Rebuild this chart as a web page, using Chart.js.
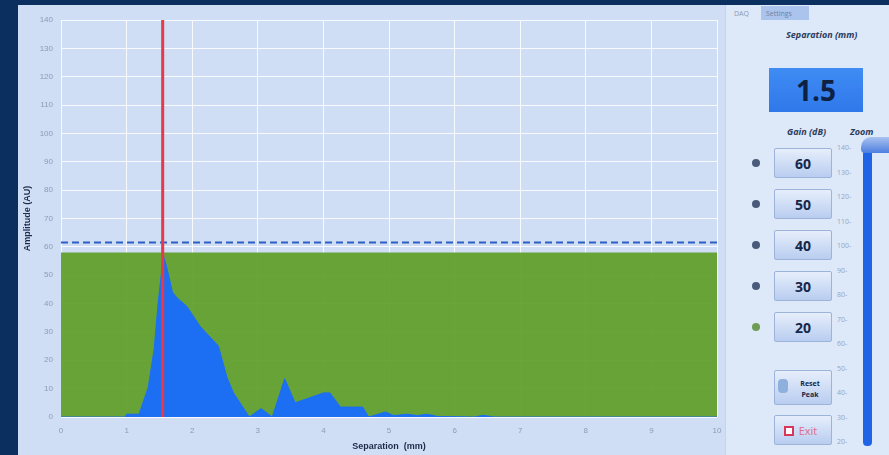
<!DOCTYPE html>
<html>
<head>
<meta charset="utf-8">
<script src="https://cdn.jsdelivr.net/npm/chart.js@4.4.1/dist/chart.umd.min.js"></script>
<style>
  body{margin:0;width:889px;height:455px;overflow:hidden;background:#0b2f5e;font-family:"Open Sans",sans-serif;position:relative;}
  #left{position:absolute;left:18px;top:5px;width:707px;height:450px;background:#cfdef5;}
  #right{position:absolute;left:725px;top:5px;width:164px;height:450px;background:#dde8f8;border-left:1px solid #c4d4ec;}
  #chart{position:absolute;left:18px;top:5px;}
  .abs{position:absolute;}
  .tab{font-size:7px;color:#8b9ab4;top:3px;}
  .lbl{font-size:9px;font-style:italic;font-weight:bold;color:#2b3c5e;}
  .btn{position:absolute;left:48px;width:58px;height:30px;border:1px solid #9db3da;border-radius:2px;
       background:linear-gradient(#e6eefb,#b9cdf0);color:#16284a;font-weight:bold;font-size:14px;
       text-align:center;line-height:30px;box-sizing:border-box;}
  .dot{position:absolute;left:26px;width:8px;height:8px;border-radius:50%;background:#4a5a7a;}
  .zt{position:absolute;left:111px;font-size:7px;color:#97a6c0;}
</style>
</head>
<body>
<div id="left"></div>
<div id="right"></div>
<canvas id="chart" width="707" height="450"></canvas>
<script>
// ================= DATA =================
const separationMm = [0, 0.98, 1.0, 1.19, 1.33, 1.42, 1.48, 1.56, 1.61, 1.70, 1.77, 1.92, 2.12, 2.40, 2.53, 2.63,
  2.87, 3.05, 3.22, 3.41, 3.57, 4.0, 4.1, 4.26, 4.6, 4.69, 4.95, 5.07, 5.28, 5.43, 5.58, 5.74, 6.3, 6.44, 6.6, 10];
const amplitudeAU = [0, 0, 1, 1, 10.5, 24, 40, 57, 53, 44, 42, 39, 32, 25, 14, 8.5,
  0, 3, 0, 13.5, 5, 8.5, 8.5, 3.5, 3.5, 0, 1.8, 0.5, 1, 0.5, 1, 0.2, 0, 0.6, 0, 0];
const gateLevel = 58;
const thresholdLevel = 61.5;
const cursorMm = 1.55;
const xRange = [0, 10];
const yRange = [0, 140];
const gainSteps = ["60", "50", "40", "30", "20"];
const zoomTicks = [140, 130, 120, 110, 100, 90, 80, 70, 60, 50, 40, 30, 20];

// ================= CHART =================
const ctx = document.getElementById("chart");

new Chart(ctx, {
  type: 'line',
  data: {
    datasets: [
      {
        label: "Cursor",
        data: [{x: cursorMm, y: yRange[0]}, {x: cursorMm, y: yRange[1]}],
        borderColor: "#e8384a",
        borderWidth: 3,
        pointRadius: 0,
        order: 0
      },
      {
        label: "Threshold",
        data: [{x: xRange[0], y: thresholdLevel}, {x: xRange[1], y: thresholdLevel}],
        borderColor: "#2c5fc4",
        borderWidth: 2,
        borderDash: [7, 4],
        pointRadius: 0,
        order: 1
      },
      {
        label: "Signal",
        data: separationMm.map((x, i) => ({x: x, y: amplitudeAU[i]})),
        borderColor: "#1c6ef2",
        backgroundColor: "#1c6ef2",
        borderWidth: 1,
        fill: 'origin',
        pointRadius: 0,
        tension: 0,
        order: 2
      },
      {
        label: "Gate",
        data: [{x: xRange[0], y: gateLevel}, {x: xRange[1], y: gateLevel}],
        borderWidth: 0,
        backgroundColor: "rgba(96,158,40,0.93)",
        fill: 'origin',
        pointRadius: 0,
        order: 3
      }
    ]
  },
  options: {
    responsive: false,
    devicePixelRatio: 1,
    animation: false,
    layout: {padding: {left: 4, right: 8, top: 15, bottom: 3}},
    plugins: {legend: {display: false}, tooltip: {enabled: false}},
    scales: {
      x: {
        type: 'linear',
        min: xRange[0], max: xRange[1],
        ticks: {stepSize: 1, color: "#8c9bb7", font: {size: 8}, padding: 9},
        grid: {color: "rgba(255,255,255,0.85)", drawTicks: false},
        border: {display: false},
        title: {display: true, text: "Separation  (mm)", color: "#1c2b48", font: {size: 9, weight: 'bold'}, padding: 0},
        afterFit: s => { s.height = 35; s.paddingLeft = 0; s.paddingRight = 0; }
      },
      y: {
        min: yRange[0], max: yRange[1],
        ticks: {stepSize: 10, color: "#8c9bb7", font: {size: 8}, padding: 8},
        grid: {color: "rgba(255,255,255,0.85)", drawTicks: false},
        border: {display: false},
        title: {display: true, text: "Amplitude (AU)", color: "#1c2b48", font: {size: 9, weight: 'bold'}, padding: 0},
        afterFit: s => { s.width = 39; s.paddingTop = 0; s.paddingBottom = 0; }
      }
    }
  }
});

// ================= SIDE PANEL =================
const right = document.getElementById("right");
let html = '';
html += '<div class="abs tab" style="left:8px;top:4px">DAQ</div>';
html += '<div class="abs" style="left:35px;top:1px;width:48px;height:14px;background:#aac4ee;"></div>';
html += '<div class="abs tab" style="left:40px;top:4px;color:#6f83a8">Settings</div>';
html += '<div class="abs lbl" style="left:60px;top:23px">Separation (mm)</div>';
html += '<div class="abs" style="left:43px;top:63px;width:94px;height:44px;background:linear-gradient(#3f8cf4,#2f78ea);' +
        'color:#0f2142;font-weight:bold;font-size:28px;text-align:center;line-height:44px">1.5</div>';
html += '<div class="abs lbl" style="left:61px;top:120px">Gain (dB)</div>';
html += '<div class="abs lbl" style="left:124px;top:120px">Zoom</div>';
gainSteps.forEach((g, i) => {
  const top = 143 + i * 41;
  html += '<div class="dot" style="top:' + (top + 11) + 'px;' + (i === gainSteps.length - 1 ? 'background:#6d9c55' : '') + '"></div>';
  html += '<div class="btn" style="top:' + top + 'px">' + g + '</div>';
});
html += '<div class="btn" style="top:365px;height:35px;line-height:11px;font-size:7px;padding-top:7px;padding-left:14px">Reset<br>Peak</div>';
html += '<div class="abs" style="left:52px;top:374px;width:10px;height:14px;border-radius:4px;background:#8fb0dc"></div>';
html += '<div class="btn" style="top:410px;font-size:11px;font-weight:normal;color:#e06a8a;padding-left:10px">Exit</div>';
html += '<div class="abs" style="left:58px;top:421px;width:6px;height:6px;border:2px solid #d8365a;background:#fff"></div>';
zoomTicks.forEach((t, i) => {
  html += '<div class="zt" style="top:' + (138 + i * 24.5) + 'px">' + t + '-</div>';
});
html += '<div class="abs" style="left:137px;top:145px;width:9px;height:296px;border-radius:4px;background:#1f63e6"></div>';
html += '<div class="abs" style="left:135px;top:132px;width:30px;height:16px;border-radius:10px 0 0 4px;background:linear-gradient(#a9c2f0,#4d7fe0)"></div>';
right.innerHTML = html;
</script>
</body>
</html>
